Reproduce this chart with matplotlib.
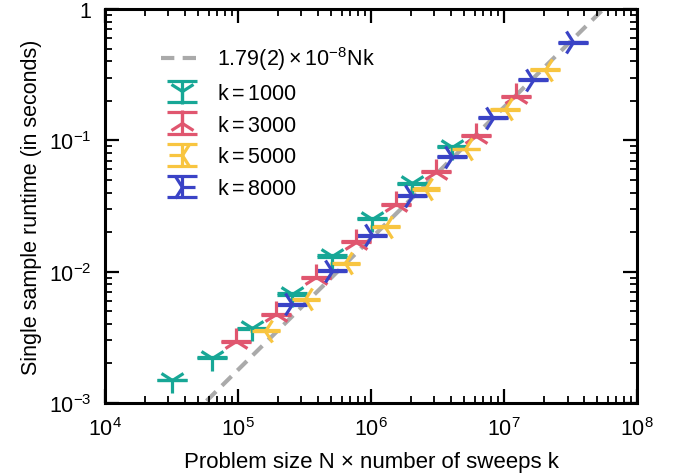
import math
import matplotlib
matplotlib.use("Agg")
import matplotlib.pyplot as plt
from matplotlib.ticker import LogLocator, FuncFormatter, NullFormatter

plt.rcParams["font.family"] = "Liberation Sans"
plt.rcParams["mathtext.fontset"] = "custom"
plt.rcParams["mathtext.rm"] = "Liberation Sans"
plt.rcParams["mathtext.it"] = "Liberation Sans:italic"

# problem size N x sweeps k for each series
x_k1000 = [3.2e4, 6.4e4, 1.28e5, 2.56e5, 5.12e5, 1.024e6, 2.048e6, 4.096e6]
x_k3000 = [9.6e4, 1.92e5, 3.84e5, 7.68e5, 1.536e6, 3.072e6, 6.144e6, 1.2288e7]
x_k5000 = [1.6e5, 3.2e5, 6.4e5, 1.28e6, 2.56e6, 5.12e6, 1.024e7, 2.048e7]
x_k8000 = [2.56e5, 5.12e5, 1.024e6, 2.048e6, 4.096e6, 8.192e6, 1.6384e7, 3.2768e7]

# single sample runtime in seconds
t_k1000 = [1.50e-3, 2.22e-3, 3.70e-3, 6.75e-3, 1.31e-2, 2.54e-2, 4.71e-2, 8.93e-2]
t_k3000 = [2.96e-3, 4.75e-3, 9.06e-3, 1.69e-2, 3.27e-2, 5.76e-2, 0.108, 0.216]
t_k5000 = [3.55e-3, 6.18e-3, 1.16e-2, 2.20e-2, 4.26e-2, 8.59e-2, 0.173, 0.345]
t_k8000 = [5.66e-3, 1.02e-2, 1.90e-2, 3.79e-2, 7.50e-2, 0.149, 0.289, 0.557]

# error bars (tiny)
e_k1000 = [1e-5, 2e-5, 4e-5, 1e-4, 2e-4, 3e-4, 5e-4, 9e-4]
e_k3000 = [2e-5, 4e-5, 8e-5, 1.5e-4, 3e-4, 5e-4, 9e-4, 1.8e-3]
e_k5000 = [3e-5, 5e-5, 1e-4, 2e-4, 4e-4, 7e-4, 1.4e-3, 2.8e-3]
e_k8000 = [4e-5, 8e-5, 1.5e-4, 3e-4, 6e-4, 1.2e-3, 2.3e-3, 4.5e-3]

fit_slope = 1.79e-8
fit_x = [1e4, 1e8]

series = [
    (x_k1000, t_k1000, e_k1000, "1000", "#17a796", "1"),
    (x_k3000, t_k3000, e_k3000, "3000", "#e0566f", "2"),
    (x_k5000, t_k5000, e_k5000, "5000", "#f8c540", "3"),
    (x_k8000, t_k8000, e_k8000, "8000", "#3a43c6", "4"),
]

fig = plt.figure(figsize=(6.78, 4.77), dpi=100, facecolor="w")
ax = fig.add_axes([0.1549, 0.1530, 0.7847, 0.826])

ax.plot(fit_x, [fit_slope * v for v in fit_x], ls=(0, (3.2, 2.0)), color="#aaaaaa",
        lw=3, zorder=1, label=r"$\mathregular{1.79(2)\times10^{-8}Nk}$")

for xs, ts, es, k, c, m in series:
    ax.errorbar(xs, ts, yerr=es, fmt=m, color=c, ms=19, mew=2.3,
                elinewidth=2.3, capsize=10.5, capthick=2.3, zorder=3,
                label=r"$\mathregular{k = %s}$" % k)

ax.set_xscale("log")
ax.set_yscale("log")
ax.set_xlim(1e4, 1e8)
ax.set_ylim(1e-3, 1)


def pow_fmt(v, pos):
    p = int(round(math.log10(v)))
    if p == 0:
        return "1"
    return r"$\mathregular{10^{%d}}$" % p


ax.xaxis.set_major_locator(LogLocator(base=10, numticks=10))
ax.yaxis.set_major_locator(LogLocator(base=10, numticks=10))
ax.xaxis.set_minor_locator(LogLocator(base=10, subs=range(2, 10), numticks=20))
ax.yaxis.set_minor_locator(LogLocator(base=10, subs=range(2, 10), numticks=20))
ax.xaxis.set_major_formatter(FuncFormatter(pow_fmt))
ax.yaxis.set_major_formatter(FuncFormatter(pow_fmt))
ax.xaxis.set_minor_formatter(NullFormatter())
ax.yaxis.set_minor_formatter(NullFormatter())

ax.tick_params(which="both", direction="in", top=True, right=True, labelsize=15.5)
ax.tick_params(which="major", length=10, width=1.6)
ax.tick_params(which="minor", length=5, width=1.3)
ax.tick_params(axis="x", which="major", pad=10)
ax.tick_params(axis="y", which="major", pad=10)
for s in ax.spines.values():
    s.set_linewidth(2.2)

ax.set_xlabel("Problem size N × number of sweeps k", fontsize=16, labelpad=8)
ax.set_ylabel("Single sample runtime (in seconds)", fontsize=15.5, labelpad=5)

ax.legend(loc="upper left", frameon=False, fontsize=15.5, handlelength=2.0,
          handletextpad=0.6, bbox_to_anchor=(0.068, 0.96), labelspacing=0.5)

fig.savefig("out.png", dpi=100)
